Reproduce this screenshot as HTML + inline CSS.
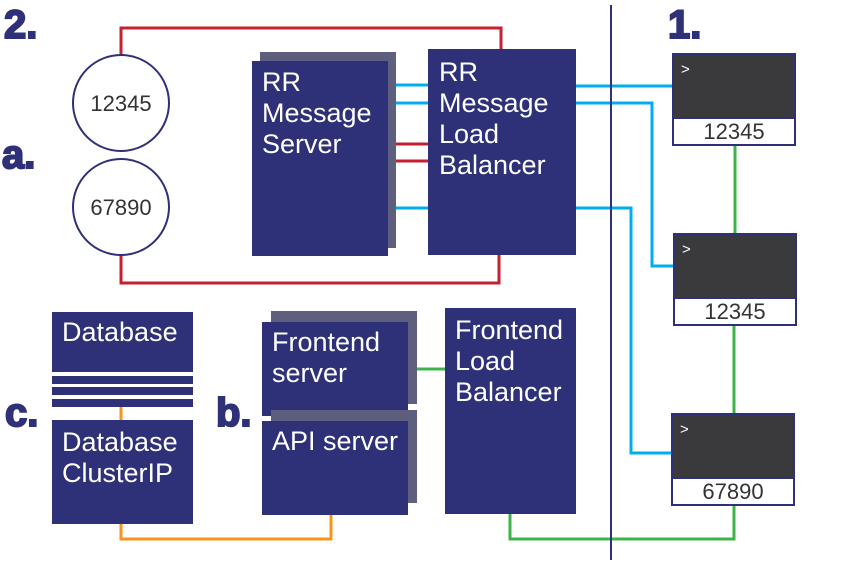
<!DOCTYPE html>
<html><head><meta charset="utf-8"><style>
html,body{margin:0;padding:0;background:#fff;width:865px;height:577px;overflow:hidden}
text{font-family:"Liberation Sans",sans-serif}
</style></head><body>
<svg width="865" height="577" viewBox="0 0 865 577" xmlns="http://www.w3.org/2000/svg">
<g fill="none" stroke-width="3">
<polyline points="121,55 121,28 501,28 501,49" stroke="#c4202f"/>
<polyline points="121,255 121,283 499,283 499,255" stroke="#c4202f"/>
<line x1="396" y1="144" x2="428" y2="144" stroke="#c4202f"/>
<line x1="396" y1="161" x2="428" y2="161" stroke="#c4202f"/>
<line x1="396" y1="85" x2="428" y2="85" stroke="#00aeef"/>
<line x1="396" y1="103" x2="428" y2="103" stroke="#00aeef"/>
<line x1="396" y1="208" x2="428" y2="208" stroke="#00aeef"/>
<line x1="576" y1="86" x2="673" y2="86" stroke="#00aeef"/>
<polyline points="576,103 652,103 652,266 674,266" stroke="#00aeef"/>
<polyline points="576,208 631,208 631,453 672,453" stroke="#00aeef"/>
<line x1="735" y1="145" x2="735" y2="234" stroke="#3bb54a"/>
<line x1="734" y1="325" x2="734" y2="414" stroke="#3bb54a"/>
<polyline points="734,505 734,539 510,539 510,514" stroke="#3bb54a"/>
<line x1="417" y1="369" x2="446" y2="369" stroke="#3bb54a"/>
<line x1="121" y1="407" x2="121" y2="420" stroke="#f7941d"/>
<polyline points="121,524 121,539 331,539 331,515" stroke="#f7941d"/>
</g>
<line x1="611" y1="5" x2="611" y2="560" stroke="#2e3078" stroke-width="2"/>
<circle cx="121" cy="103" r="48" fill="#fff" stroke="#2e3078" stroke-width="2"/>
<circle cx="121" cy="207" r="48" fill="#fff" stroke="#2e3078" stroke-width="2"/>
<text x="121" y="111" font-size="22" text-anchor="middle" fill="#333">12345</text>
<text x="121" y="215" font-size="22" text-anchor="middle" fill="#333">67890</text>
<rect x="260" y="52" width="136" height="196" fill="#5e5f7e"/>
<rect x="252" y="61" width="136" height="195" fill="#2e3078"/>
<g fill="#fff" font-size="27">
<text x="262" y="91">RR</text><text x="262" y="122">Message</text><text x="262" y="153">Server</text>
</g>
<rect x="428" y="49" width="148" height="206" fill="#2e3078"/>
<g fill="#fff" font-size="27">
<text x="439" y="81">RR</text><text x="439" y="112">Message</text><text x="439" y="143">Load</text><text x="439" y="174">Balancer</text>
</g>
<g stroke="#2e3078" stroke-width="2">
<rect x="673" y="54" width="122" height="91" fill="#fff"/>
<rect x="673" y="54" width="122" height="64" fill="#3a3a3c"/>
<rect x="674" y="234" width="122" height="91" fill="#fff"/>
<rect x="674" y="234" width="122" height="64" fill="#3a3a3c"/>
<rect x="672" y="414" width="122" height="91" fill="#fff"/>
<rect x="672" y="414" width="122" height="64" fill="#3a3a3c"/>
</g>
<g fill="#fff" font-size="15"><text x="681" y="74">&gt;</text><text x="682" y="254">&gt;</text><text x="680" y="434">&gt;</text></g>
<g fill="#333" font-size="22" text-anchor="middle">
<text x="734" y="139">12345</text><text x="735" y="319">12345</text><text x="733" y="499">67890</text>
</g>
<rect x="52" y="312" width="141" height="60" fill="#2e3078"/>
<rect x="52" y="376" width="141" height="8" fill="#2e3078"/>
<rect x="52" y="387" width="141" height="8" fill="#2e3078"/>
<rect x="52" y="399" width="141" height="8" fill="#2e3078"/>
<rect x="52" y="420" width="141" height="104" fill="#2e3078"/>
<g fill="#fff" font-size="27">
<text x="62" y="341">Database</text>
<text x="62" y="451">Database</text><text x="62" y="482">ClusterIP</text>
</g>
<rect x="271" y="311" width="146" height="93" fill="#5e5f7e"/>
<rect x="262" y="322" width="146" height="94" fill="#2e3078"/>
<rect x="271" y="410" width="146" height="93" fill="#5e5f7e"/>
<rect x="262" y="421" width="146" height="94" fill="#2e3078"/>
<g fill="#fff" font-size="27">
<text x="272" y="351">Frontend</text><text x="272" y="382">server</text>
<text x="272" y="450">API server</text>
</g>
<rect x="445" y="308" width="131" height="206" fill="#2e3078"/>
<g fill="#fff" font-size="27">
<text x="455" y="339">Frontend</text><text x="455" y="370">Load</text><text x="455" y="401">Balancer</text>
</g>
<g fill="#2e3078" stroke="#2e3078" stroke-width="2" font-size="40" font-weight="bold">
<text x="4" y="38">2.</text>
<text x="668" y="38">1.</text>
<text x="2" y="168">a.</text>
<text x="216" y="426">b.</text>
<text x="5" y="426">c.</text>
</g>
</svg>
</body></html>
